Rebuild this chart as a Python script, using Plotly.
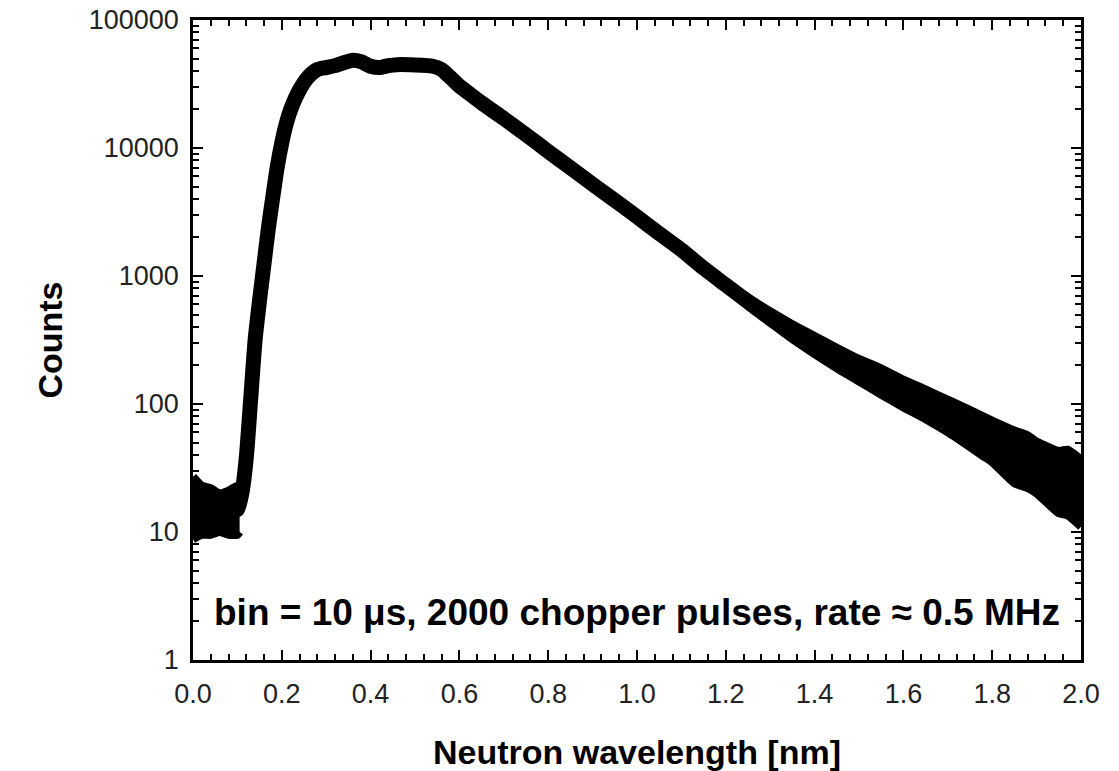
import plotly.graph_objects as go

wavelength = [0.00, 0.02, 0.04, 0.06, 0.08, 0.10, 0.11, 0.12, 0.13, 0.14, 0.15, 0.16, 0.17,
              0.18, 0.19, 0.20, 0.21, 0.22, 0.24, 0.26, 0.28, 0.30, 0.32, 0.34, 0.36, 0.38,
              0.40, 0.42, 0.44, 0.46, 0.50, 0.54, 0.56, 0.58, 0.60, 0.62, 0.65, 0.70, 0.75,
              0.80, 0.85, 0.90, 0.95, 1.00, 1.05, 1.10, 1.15, 1.20, 1.25, 1.30, 1.35, 1.40,
              1.45, 1.50, 1.55, 1.60, 1.65, 1.70, 1.75, 1.80, 1.85, 1.90, 1.95, 2.00]
counts = [15, 15, 14, 13, 14, 15, 20, 38, 110, 320, 650, 1250, 2400,
          4200, 7200, 11000, 15500, 20000, 28500, 36000, 41000, 42500, 44000, 46500, 48500, 47000,
          43500, 42500, 44000, 44800, 44500, 43500, 41000, 35500, 30500, 27000, 22500, 17000, 12700,
          9400, 7000, 5200, 3900, 2900, 2150, 1600, 1150, 850, 630, 480, 370, 290,
          230, 185, 150, 122, 100, 83, 66, 52, 41, 34, 28, 23]

# Scatter band (noise envelopes) at low wavelength
noise_lo_x = [0.00, 0.02, 0.04, 0.06, 0.08, 0.10, 0.105]
noise_lo_hi = [27, 23, 22, 20, 21, 23, 22]
noise_lo_lo = [8.8, 9.5, 9.5, 10, 9.5, 9.5, 10]

# Scatter band (noise envelopes) at long wavelength
noise_hi_x = [1.15, 1.20, 1.25, 1.30, 1.35, 1.40, 1.45, 1.50, 1.55, 1.60, 1.65, 1.70, 1.75,
              1.78, 1.80, 1.85, 1.88, 1.90, 1.95, 1.97, 2.00]
noise_hi_hi = [1200, 900, 680, 530, 420, 340, 275, 225, 190, 155, 130, 108, 90,
               80, 74, 62, 57, 51, 43, 44, 37]
noise_hi_lo = [1100, 800, 580, 430, 320, 245, 190, 150, 118, 94, 76, 60, 46,
               39, 35, 24, 22, 20, 14, 13.5, 11]

# Tick labels
y_ticks = [1, 10, 100, 1000, 10000, 100000]
y_tick_text = ["1", "10", "100", "1000", "10000", "100000"]
y_minor = [m * 10 ** d for d in range(5) for m in range(2, 10)]

FONT = "Liberation Sans, Arial, sans-serif"

fig = go.Figure()

for xs, lo, hi in [(noise_lo_x, noise_lo_lo, noise_lo_hi), (noise_hi_x, noise_hi_lo, noise_hi_hi)]:
    fig.add_trace(go.Scatter(x=xs, y=lo, mode="lines",
                             line=dict(color="black", width=8, shape="spline", smoothing=0.5),
                             showlegend=False, hoverinfo="skip"))
    fig.add_trace(go.Scatter(x=xs, y=hi, mode="lines", fill="tonexty", fillcolor="black",
                             line=dict(color="black", width=8, shape="spline", smoothing=0.5),
                             showlegend=False, hoverinfo="skip"))

fig.add_trace(go.Scatter(x=wavelength, y=counts, mode="lines",
                         line=dict(color="black", width=15, shape="spline", smoothing=0.6),
                         showlegend=False))

fig.update_xaxes(range=[0, 2.0], tickmode="linear", tick0=0, dtick=0.2, tickformat=".1f",
                 ticks="inside", ticklen=10, tickwidth=2, tickcolor="black",
                 minor=dict(ticks="inside", ticklen=6, tickwidth=2, tickcolor="black", dtick=0.04),
                 showline=True, linecolor="black", linewidth=2.5, mirror="allticks",
                 showgrid=False, zeroline=False, automargin=False, ticklabelstandoff=8,
                 tickfont=dict(family=FONT, size=27, color="#222"),
                 title=dict(text="<b>Neutron wavelength [nm]</b>",
                            font=dict(family=FONT, size=34, color="black"), standoff=36))
fig.update_yaxes(type="log", range=[0, 5], tickmode="array", tickvals=y_ticks,
                 ticktext=y_tick_text,
                 ticks="inside", ticklen=10, tickwidth=2, tickcolor="black",
                 minor=dict(tickmode="array", tickvals=y_minor, ticks="inside", ticklen=6,
                            tickwidth=2, tickcolor="black"),
                 showline=True, linecolor="black", linewidth=2.5, mirror="allticks",
                 showgrid=False, zeroline=False, automargin=False, ticklabelstandoff=6,
                 tickfont=dict(family=FONT, size=27, color="#222"),
                 title=dict(text="<b>Counts</b>",
                            font=dict(family=FONT, size=34, color="black"), standoff=16))

fig.add_annotation(x=1.0, y=0.375, xref="x", yref="y", showarrow=False,
                   text="<b>bin = 10 μs, 2000 chopper pulses, rate ≈ 0.5 MHz</b>",
                   font=dict(family=FONT, size=37, color="black"))

fig.update_layout(width=1119, height=771, plot_bgcolor="white", paper_bgcolor="white",
                  margin=dict(l=193, r=38, t=20, b=111))

fig.write_html("out.html")
